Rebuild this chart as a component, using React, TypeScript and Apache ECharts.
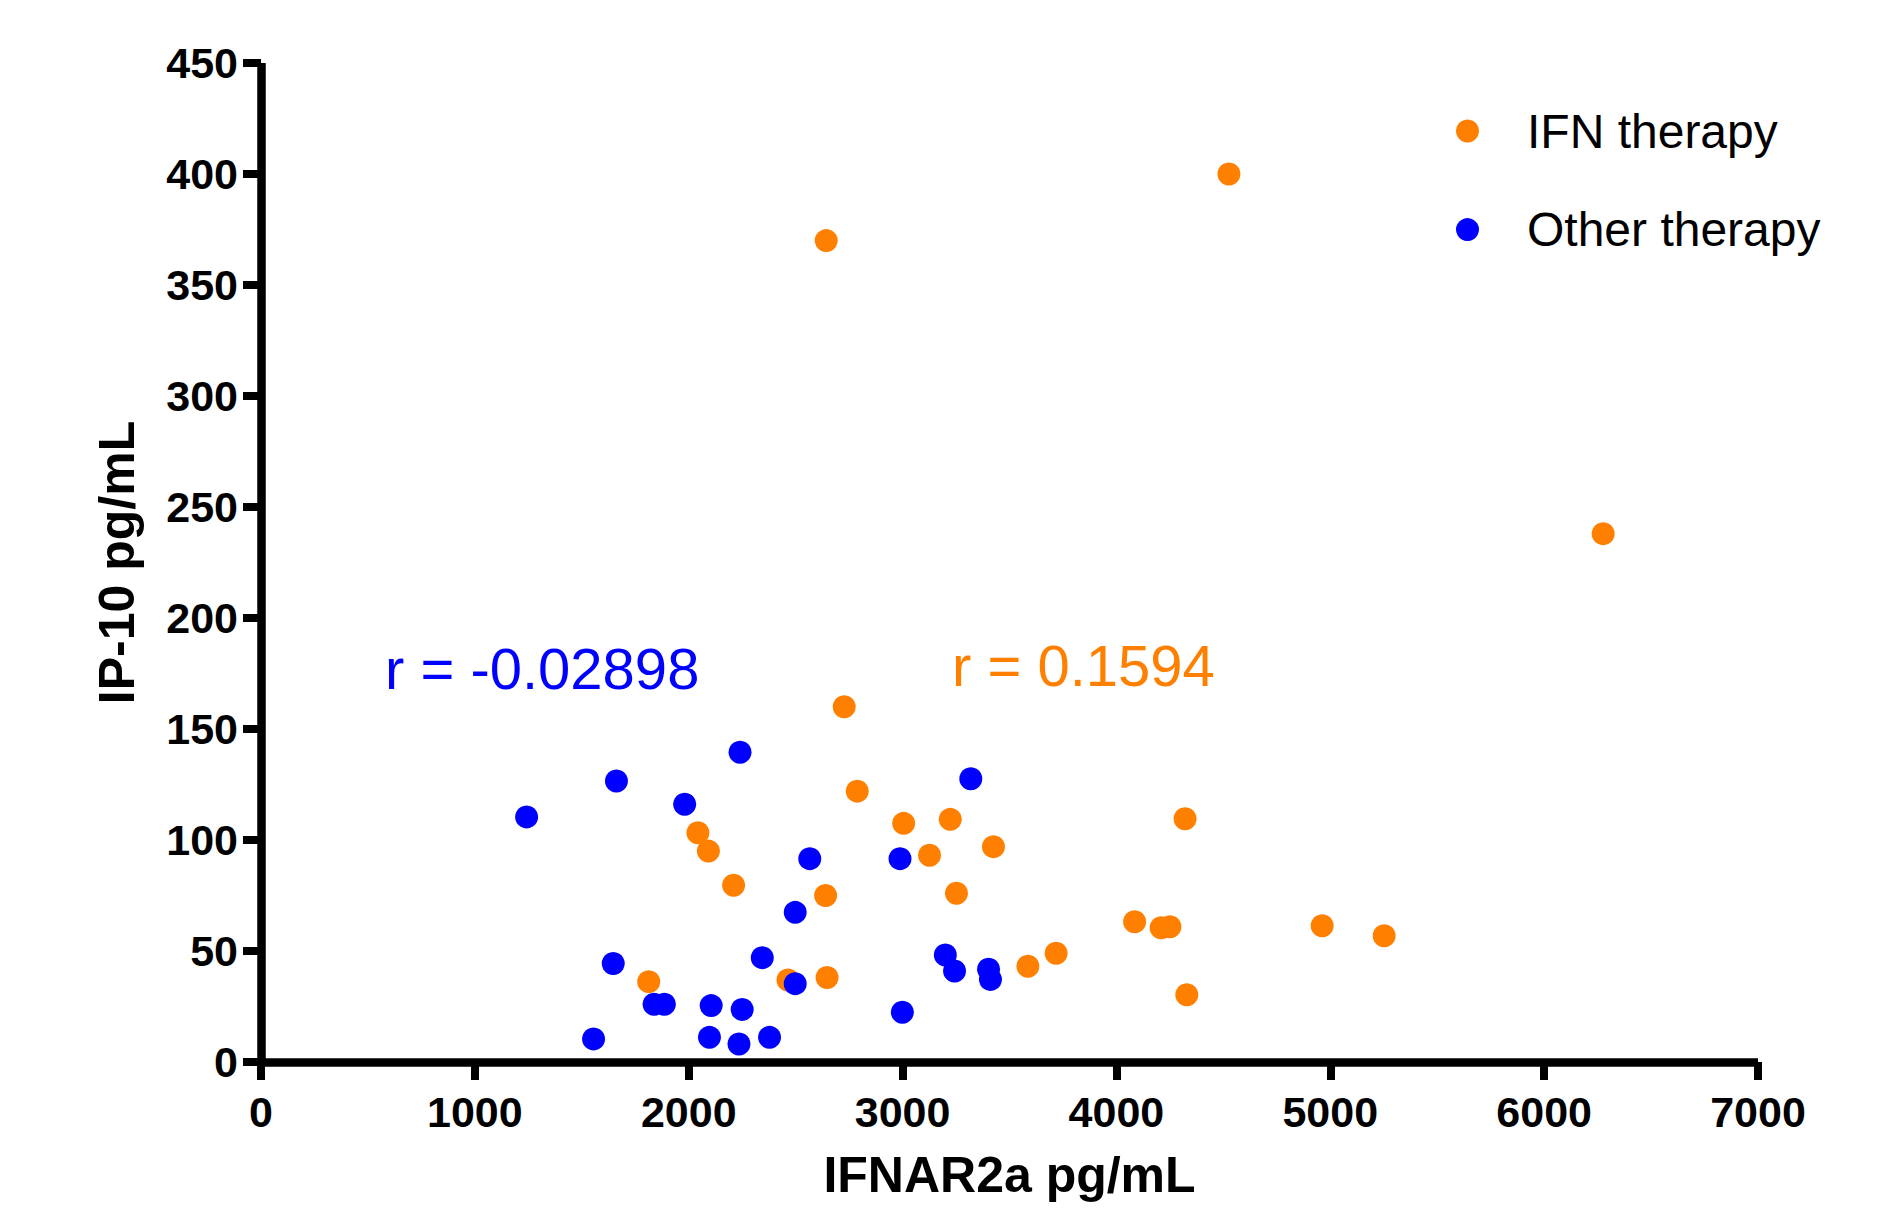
import React, { useEffect, useRef } from "react";
import * as echarts from "echarts";

const seriesNames = ["IFN therapy", "Other therapy"];
const seriesColors = ["#FF8000", "#0000FF"];

const ifnX = [2643, 4526, 6276, 2727, 2788, 3005, 3223, 3425, 2043, 2092, 2210, 2640, 3126, 3252, 1813, 2464, 2647, 3586, 3718, 4321, 4085, 4209, 4250, 4962, 5252, 4329];
const ifnY = [370, 400, 238, 160, 122, 107.5, 109.3, 97, 103.3, 95, 79.6, 75, 93.1, 76, 36.2, 36.9, 38.1, 43.1, 49, 109.6, 63.2, 60.5, 60.9, 61.4, 56.9, 30.3];

const otherX = [1242, 1662, 2240, 1981, 2566, 2988, 3319, 2498, 1647, 2344, 1838, 1886, 2105, 2250, 2498, 3200, 3243, 3402, 3411, 2999, 1555, 2097, 2235, 2378];
const otherY = [110.4, 126.6, 139.5, 116.1, 91.6, 91.6, 127.6, 67.4, 44.4, 47, 26, 26, 25.4, 23.7, 35.3, 48.2, 41, 41.8, 37.2, 22.4, 10.4, 11.1, 8.1, 11.1];

const xAxisRange = { min: 0, max: 7000, interval: 1000 };
const yAxisRange = { min: 0, max: 450, interval: 50 };

const xTitle = "IFNAR2a pg/mL";
const yTitle = "IP-10 pg/mL";
const rLabels = ["r = -0.02898", "r = 0.1594"];

const FONT = "'Liberation Sans', Arial, Helvetica, sans-serif";

function zip(xs: number[], ys: number[]) {
  return xs.map((x, i) => [x, ys[i]]);
}

export default function App() {
  const ref = useRef<HTMLDivElement>(null);

  useEffect(() => {
    if (!ref.current) return;
    const chart = echarts.init(ref.current, undefined, { renderer: "svg" });

    const axisCommon = {
      axisLine: { show: true, lineStyle: { color: "#000", width: 8.5, cap: "butt" } },
      axisTick: { show: true, length: 18, lineStyle: { color: "#000", width: 8 } },
      splitLine: { show: false },
    };

    chart.setOption({
      animation: false,
      backgroundColor: "#fff",
      grid: { left: 261, right: 143, top: 63, bottom: 149, containLabel: false },
      legend: {
        orient: "vertical",
        left: 1456,
        top: 107,
        padding: 0,
        itemWidth: 23,
        itemHeight: 23,
        itemGap: 50.6,
        icon: "circle",
        data: seriesNames,
        textStyle: {
          fontFamily: FONT,
          fontSize: 48,
          lineHeight: 48,
          color: "#000",
          padding: [0, 0, 0, 43],
        },
      },
      xAxis: {
        type: "value",
        ...xAxisRange,
        ...axisCommon,
        name: xTitle,
        nameLocation: "middle",
        nameGap: 88,
        nameTextStyle: { fontFamily: FONT, fontSize: 50, fontWeight: "bold", color: "#000" },
        axisLabel: {
          margin: 28,
          fontFamily: FONT,
          fontSize: 43,
          fontWeight: "bold",
          color: "#000",
          formatter: (v: number) => String(v),
        },
      },
      yAxis: {
        type: "value",
        ...yAxisRange,
        ...axisCommon,
        name: yTitle,
        nameLocation: "middle",
        nameGap: 119,
        nameTextStyle: { fontFamily: FONT, fontSize: 50, fontWeight: "bold", color: "#000" },
        axisLabel: {
          margin: 23,
          fontFamily: FONT,
          fontSize: 43,
          fontWeight: "bold",
          color: "#000",
          formatter: (v: number) => String(v),
        },
      },
      graphic: [
        {
          type: "text",
          left: 385,
          top: 668.2 - 29,
          style: { text: rLabels[0], fill: seriesColors[1], fontFamily: FONT, fontSize: 58 },
        },
        {
          type: "text",
          left: 952,
          top: 665.6 - 29,
          style: { text: rLabels[1], fill: seriesColors[0], fontFamily: FONT, fontSize: 58 },
        },
      ],
      series: [
        {
          name: seriesNames[0],
          type: "scatter",
          symbol: "circle",
          symbolSize: 23,
          itemStyle: { color: seriesColors[0], opacity: 1 },
          data: zip(ifnX, ifnY),
        },
        {
          name: seriesNames[1],
          type: "scatter",
          symbol: "circle",
          symbolSize: 23,
          itemStyle: { color: seriesColors[1], opacity: 1 },
          data: zip(otherX, otherY),
        },
      ],
    });

    return () => chart.dispose();
  }, []);

  return (
    <div
      ref={ref}
      style={{ position: "fixed", left: 0, top: 0, width: "1901px", height: "1211px", background: "#fff" }}
    />
  );
}
